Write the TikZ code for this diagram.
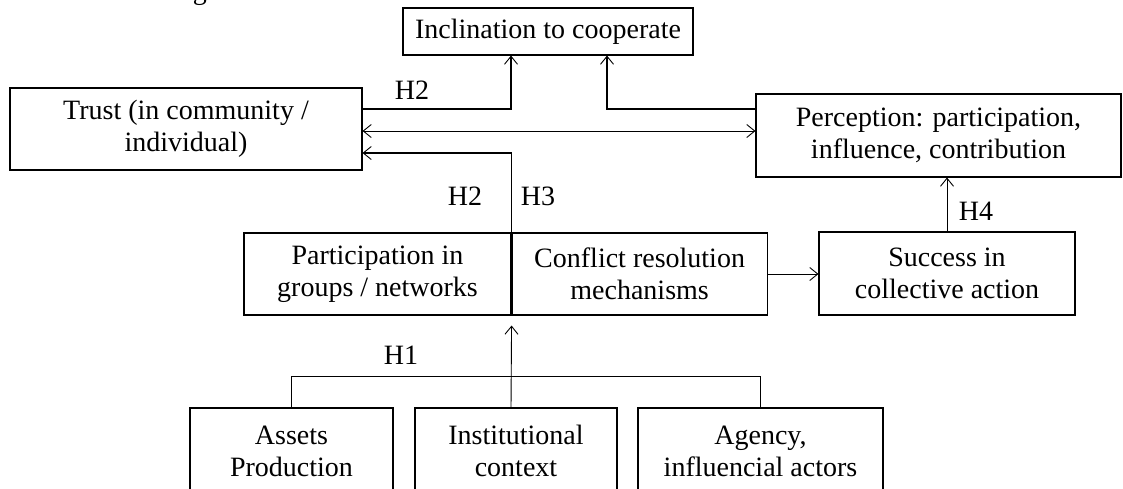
\documentclass[tikz,border=0pt]{standalone}
\usepackage{fontspec}
\setmainfont{Liberation Serif}
\usetikzlibrary{arrows.meta,positioning}
\tikzset{
  box/.style={draw, line width=1.1pt, align=center, inner sep=0pt,
    font=\fontsize{28}{32}\selectfont},
  conn/.style={line width=0.9pt},
  thickconn/.style={line width=1.4pt},
  tip/.style={-{Straight Barb[length=8pt,width=13pt,line width=0.9pt]}},
  lbl/.style={font=\fontsize{28}{32}\selectfont, inner sep=0pt}
}
\begin{document}
\begin{tikzpicture}[x=1pt, y=-1pt]
        % 画布
        \useasboundingbox (0,0) rectangle (1123,488);
        \clip (0,0) rectangle (1123,488);
        \node[lbl, anchor=base west] (title) at (30,-1) {Structure of organization};

        % 上层方框
        \node[box, minimum width=290, minimum height=47] (incl) at (548,31.5) {Inclination to cooperate};
        \node[box, minimum width=352, minimum height=82] (trust) at (186,129) {Trust (in community /\\individual)};
        \node[box, minimum width=365, minimum height=83] (percep) at (938.5,135.5) {Perception: participation,\\influence, contribution};

        % 中层方框
        \node[box, minimum width=267, minimum height=82] (part) at (377.5,274) {Participation in\\groups / networks};
        \node[box, minimum width=255, minimum height=82, right=0pt of part] (confl) {Conflict resolution\\mechanisms};
        \node[box, minimum width=256, minimum height=83] (success) at (947,273.5) {Success in\\collective action};

        % 下层方框
        \node[box, minimum width=203, minimum height=86] (assets) at (291.5,451) {Assets\\Production};
        \node[box, minimum width=202, minimum height=86] (inst) at (516,451) {Institutional\\context};
        \node[box, minimum width=245, minimum height=86] (agency) at (760.5,451) {Agency,\\influencial actors};

        % 连线
        \draw[thickconn, tip] ([yshift=20pt]trust.east) -| ([xshift=-37pt]incl.south);
        \draw[thickconn, tip] ([yshift=26.5pt]percep.west) -| ([xshift=59pt]incl.south);
        \draw[conn, {Straight Barb[length=8pt,width=13pt,line width=0.9pt]}-{Straight Barb[length=8pt,width=13pt,line width=0.9pt]}]
            ([yshift=-2pt]trust.east) -- ([yshift=-2pt]trust.east -| percep.west);
        \draw[thickconn, tip] (part.north east) |- ([yshift=-24pt]trust.east);
        \draw[conn, tip] (confl.east) -- (confl.east -| success.west);
        \draw[conn, tip] (success.north) -- (success.north |- percep.south);
        \draw[conn, tip] ([xshift=-5pt]inst.north) -- ([yshift=-10pt]part.south east);
        \draw[conn] (assets.north) -- ++(0pt,31pt) -| (agency.north);

        % 假设记号
        \node[lbl] (h2a) at (412,90) {H2};
        \node[lbl] (h2b) at (465,196) {H2};
        \node[lbl] (h3) at (538,196) {H3};
        \node[lbl] (h1) at (401,355) {H1};
        \node[lbl] (h4) at (976,211) {H4};
    \end{tikzpicture}
\end{document}
